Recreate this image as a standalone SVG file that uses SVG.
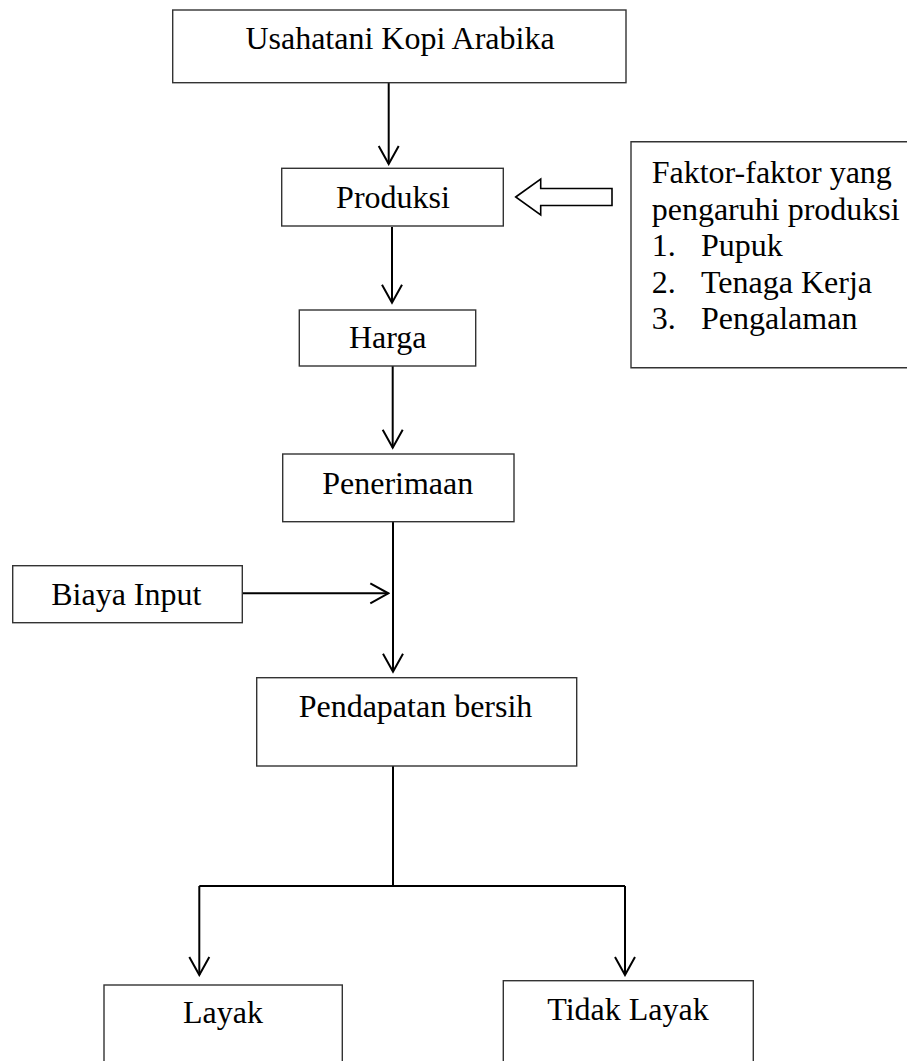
<svg xmlns="http://www.w3.org/2000/svg" width="911" height="1061" viewBox="0 0 911 1061">
<style>
.box{fill:#fff;stroke:#333;stroke-width:1.4}
.t{font-family:"Liberation Serif","Times New Roman",serif;font-size:32px;fill:#000}
.c{text-anchor:middle}
.ln{fill:none;stroke:#000;stroke-width:2}
</style>
<defs>
<marker id="arr" viewBox="-20 -12 22 24" refX="0" refY="0" markerWidth="22" markerHeight="24" markerUnits="userSpaceOnUse" orient="auto">
<path d="M-18,-10 L0,0 L-18,10" fill="none" stroke="#000" stroke-width="2"/>
</marker>
</defs>
<rect width="911" height="1061" fill="#fff"/>
<g id="connectors">
<path class="ln" d="M388.7,83 V164" marker-end="url(#arr)"/>
<path class="ln" d="M392,227 V302.7" marker-end="url(#arr)"/>
<path class="ln" d="M392.7,366 V447.7" marker-end="url(#arr)"/>
<path class="ln" d="M393,522 V671.7" marker-end="url(#arr)"/>
<path class="ln" d="M242.3,593.3 H388.3" marker-end="url(#arr)"/>
<path class="ln" d="M393,766 V886"/>
<path class="ln" d="M199.3,886 H625"/>
<path class="ln" d="M199.3,886 V975" marker-end="url(#arr)"/>
<path class="ln" d="M625,886 V975" marker-end="url(#arr)"/>
<polygon id="block-arrow" points="515.7,197 540.7,179 540.7,188.5 612,188.5 612,205.5 540.7,205.5 540.7,215" fill="#fff" stroke="#000" stroke-width="1.6"/>
</g>
<g id="usahatani">
<rect class="box" x="172.7" y="10" width="453.3" height="72.7"/>
<text class="t c" x="400" y="49">Usahatani Kopi Arabika</text>
</g>
<g id="produksi">
<rect class="box" x="281.7" y="168.3" width="221.6" height="57.7"/>
<text class="t c" x="393" y="208">Produksi</text>
</g>
<g id="faktor">
<path d="M907,141.7 H631 V367.7 H907" fill="#fff" stroke="#333" stroke-width="1.4"/>
<text class="t" x="651.7" y="183">Faktor-faktor yang</text>
<text class="t" x="651.7" y="219.5">pengaruhi produksi</text>
<text class="t" x="651.7" y="256">1.</text>
<text class="t" x="701" y="256">Pupuk</text>
<text class="t" x="651.7" y="292.5">2.</text>
<text class="t" x="701" y="292.5">Tenaga Kerja</text>
<text class="t" x="651.7" y="329">3.</text>
<text class="t" x="701" y="329">Pengalaman</text>
</g>
<g id="harga">
<rect class="box" x="299.3" y="310" width="176.4" height="56"/>
<text class="t c" x="387.7" y="348.3">Harga</text>
</g>
<g id="penerimaan">
<rect class="box" x="282.7" y="454" width="231.3" height="67.7"/>
<text class="t c" x="397.7" y="494">Penerimaan</text>
</g>
<g id="biaya-input">
<rect class="box" x="12.7" y="565.7" width="229.6" height="57"/>
<text class="t c" x="126.3" y="605">Biaya Input</text>
</g>
<g id="pendapatan">
<rect class="box" x="256.7" y="677.7" width="320" height="88.3"/>
<text class="t c" x="415.5" y="716.7">Pendapatan bersih</text>
</g>
<g id="layak">
<rect class="box" x="104" y="985" width="238.3" height="90"/>
<text class="t c" x="223" y="1023.3">Layak</text>
</g>
<g id="tidak-layak">
<rect class="box" x="503.3" y="980.7" width="250" height="95"/>
<text class="t c" x="628" y="1020">Tidak Layak</text>
</g>
</svg>
